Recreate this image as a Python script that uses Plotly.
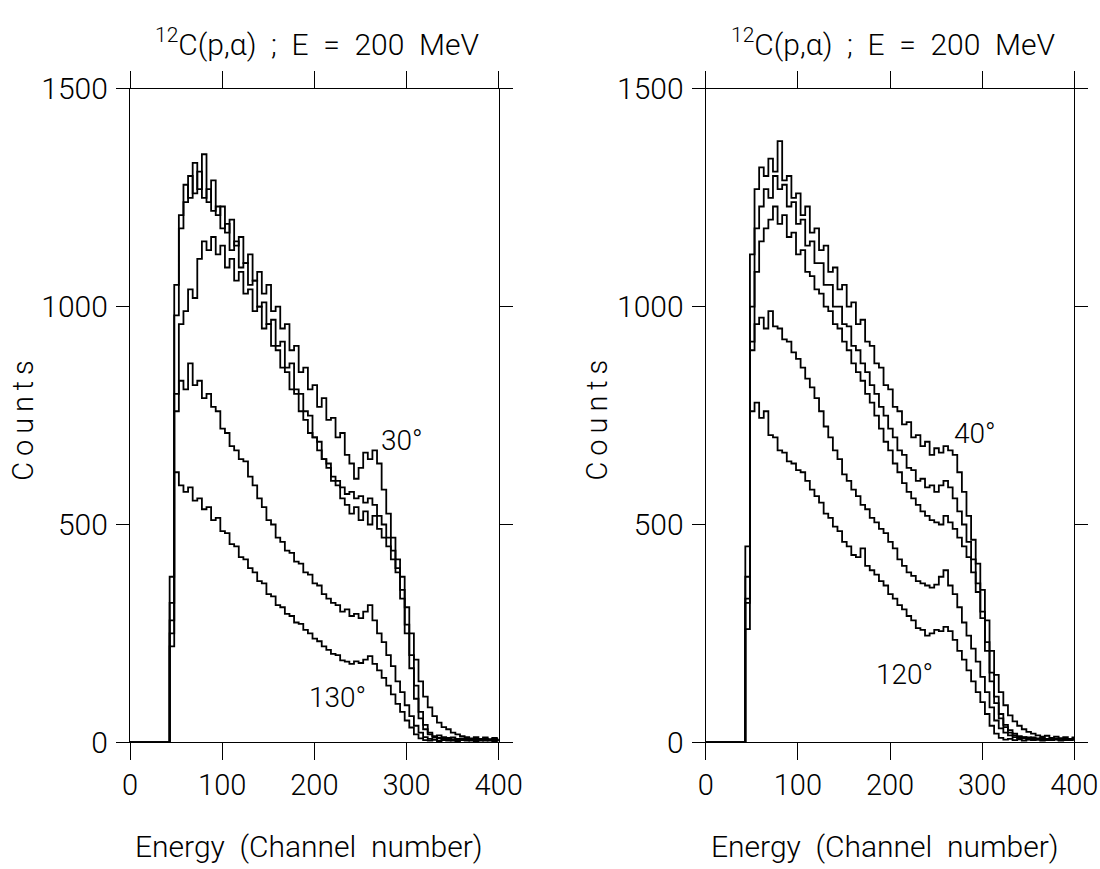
import plotly.graph_objects as go

# channel bins (start of each bin); first bin (0-42) is empty
CH = [0] + list(range(43, 400, 5))

# ---- left panel: 12C(p,alpha), angles 30 deg ... 130 deg
L_30 = [0, 380, 1050, 1210, 1280, 1250, 1330, 1270, 1350, 1240, 1290, 1210, 1230,
        1170, 1200, 1140, 1160, 1100, 1120, 1060, 1080, 1030, 1050, 990, 1000,
        950, 960, 900, 910, 850, 860, 810, 820, 770, 790, 740, 745,
        700, 710, 660, 640, 605, 630, 665, 650, 670, 640, 580, 525,
        470, 420, 380, 310, 250, 190, 140, 105, 80, 60, 45, 35,
        30, 22, 18, 14, 12, 9, 12, 8, 11, 7, 10, 6]
L_b = [0, 320, 980, 1180, 1240, 1300, 1260, 1310, 1250, 1270, 1220, 1230, 1180,
       1190, 1130, 1150, 1090, 1100, 1050, 1060, 1000, 1010, 960, 970, 910,
       920, 860, 870, 810, 800, 760, 750, 700, 690, 650, 640, 600,
       590, 560, 545, 525, 540, 510, 530, 500, 520, 490, 470, 450,
       420, 390, 350, 270, 200, 130, 70, 40, 22, 14, 10, 8,
       10, 6, 8, 5, 7, 5, 8, 4, 6, 5, 7, 4]
L_c = [0, 250, 760, 960, 990, 1040, 1020, 1110, 1150, 1130, 1160, 1120, 1140,
       1090, 1110, 1060, 1080, 1030, 1040, 990, 1000, 950, 960, 910, 900,
       860, 850, 810, 800, 760, 740, 710, 700, 670, 650, 630, 610,
       600, 585, 570, 575, 560, 565, 550, 560, 545, 520, 500, 470,
       440, 400, 330, 250, 170, 100, 55, 30, 18, 12, 16, 12,
       9, 11, 7, 9, 6, 8, 5, 7, 9, 5, 8, 6]
L_d = [0, 280, 800, 830, 810, 870, 820, 830, 790, 800, 770, 760, 720,
       710, 680, 670, 650, 645, 610, 590, 560, 540, 510, 500, 470,
       460, 440, 435, 415, 410, 390, 385, 365, 360, 340, 330, 320,
       315, 300, 305, 290, 295, 285, 300, 315, 280, 250, 230, 200,
       175, 140, 115, 85, 60, 38, 22, 12, 8, 6, 9, 5,
       7, 4, 6, 5, 8, 4, 6, 5, 7, 4, 6, 5]
L_130 = [0, 220, 620, 590, 575, 585, 555, 560, 535, 540, 510, 515, 485,
         480, 455, 450, 425, 420, 400, 390, 370, 365, 340, 335, 315,
         310, 295, 290, 275, 272, 258, 250, 238, 232, 220, 212, 203,
         200, 188, 185, 180, 186, 182, 190, 198, 180, 165, 148, 130,
         110, 88, 70, 50, 34, 18, 9, 5, 4, 6, 3, 5,
         4, 6, 3, 5, 4, 6, 3, 5, 4, 6, 3, 5]

# ---- right panel: angles 40 deg ... 120 deg
R_40 = [0, 450, 1120, 1270, 1320, 1300, 1340, 1310, 1380, 1290, 1300, 1250, 1260,
        1210, 1230, 1170, 1180, 1130, 1140, 1080, 1090, 1040, 1050, 1000, 1010,
        960, 970, 920, 910, 870, 860, 820, 810, 770, 760, 730, 735,
        700, 705, 680, 690, 660, 675, 665, 680, 670, 660, 620, 575,
        520, 465, 410, 350, 280, 210, 155, 115, 85, 62, 48, 38,
        30, 24, 20, 16, 13, 15, 10, 13, 9, 12, 8, 11]
R_b = [0, 380, 1000, 1180, 1230, 1270, 1250, 1300, 1270, 1280, 1230, 1240, 1190,
       1200, 1140, 1150, 1100, 1100, 1050, 1050, 1000, 1000, 960, 955, 910,
       900, 870, 850, 820, 800, 770, 750, 720, 700, 670, 660, 630,
       625, 600, 605, 585, 590, 575, 590, 600, 585, 560, 530, 500,
       460, 420, 365, 300, 230, 160, 105, 65, 40, 28, 20, 14,
       12, 9, 11, 7, 10, 6, 9, 7, 5, 8, 6, 9]
R_c = [0, 330, 900, 1080, 1150, 1180, 1200, 1230, 1190, 1210, 1160, 1170, 1120,
       1130, 1080, 1070, 1040, 1030, 1000, 990, 960, 950, 920, 900, 870,
       850, 830, 800, 780, 750, 720, 690, 670, 640, 620, 595, 575,
       560, 545, 530, 520, 510, 505, 500, 520, 505, 490, 470, 450,
       425, 390, 345, 285, 210, 140, 90, 55, 35, 22, 16, 12,
       9, 11, 7, 9, 6, 8, 5, 7, 9, 5, 7, 6]
R_d = [0, 320, 920, 960, 975, 950, 990, 955, 950, 925, 920, 895, 880,
       860, 835, 815, 790, 760, 725, 700, 670, 650, 615, 600, 580,
       565, 545, 535, 515, 505, 490, 480, 460, 445, 420, 405, 390,
       382, 370, 365, 360, 355, 362, 380, 395, 360, 340, 310, 275,
       245, 215, 185, 150, 115, 80, 50, 32, 22, 16, 12, 9,
       11, 7, 9, 6, 8, 5, 7, 9, 5, 7, 6, 8]
R_120 = [0, 260, 760, 780, 745, 760, 705, 700, 670, 665, 645, 640, 625,
         620, 600, 580, 565, 550, 525, 515, 495, 485, 460, 450, 430,
         425, 445, 405, 395, 385, 370, 360, 340, 330, 315, 305, 290,
         280, 262, 258, 245, 250, 258, 255, 265, 255, 235, 210, 190,
         165, 140, 115, 92, 65, 38, 20, 10, 6, 8, 5, 7,
         4, 6, 5, 7, 4, 6, 5, 7, 4, 6, 5, 7]

X_TICKS = [0, 100, 200, 300, 400]
Y_TICKS = [0, 500, 1000, 1500]
TITLE = "<sup>12</sup>C(p,\u03b1)\u00a0 ;\u00a0 E\u00a0 =\u00a0 200\u00a0 MeV"
XTITLE = "Energy\u00a0 (Channel\u00a0 number)"
YTITLE = "C\u2009o\u2009u\u2009n\u2009t\u2009s"

LEFT_LABELS = [("30\u00b0", 295, 692), ("130\u00b0", 225, 104)]
RIGHT_LABELS = [("40\u00b0", 292, 708), ("120\u00b0", 216, 155)]

FONT = "Roboto, Liberation Sans, sans-serif"
WEIGHT = 300
W, H = 1100, 869

fig = go.Figure()

def add_curve(vals, xa, ya):
    fig.add_trace(go.Scatter(
        x=CH + [400], y=vals + [vals[-1]], mode="lines", line_shape="hv",
        line=dict(color="black", width=1.8), xaxis=xa, yaxis=ya,
        showlegend=False, hoverinfo="skip"))

for v in [L_130, L_d, L_c, L_b, L_30]:
    add_curve(v, "x", "y")
for v in [R_120, R_d, R_c, R_b, R_40]:
    add_curve(v, "x2", "y2")

# pixel geometry
LX0, LX1 = 130.0, 498.7
RX0, RX1 = 705.7, 1074.3
Y0, Y1 = 742.3, 88.9
ydom = [(H - Y0) / H, (H - Y1) / H]

def fnt(size):
    return dict(family=FONT, size=size, color="black", weight=WEIGHT)

def xax(d0, d1, anchor):
    return dict(domain=[d0 / W, d1 / W], range=[0, 400], anchor=anchor, automargin=False,
                tickvals=X_TICKS, ticks="outside", ticklen=17, tickwidth=1.3,
                tickcolor="black", showline=True, linecolor="black", linewidth=1.3,
                mirror="allticks", showgrid=False, zeroline=False,
                tickfont=fnt(29), ticklabelstandoff=0)

def yax(anchor):
    return dict(domain=ydom, range=[0, 1500], anchor=anchor, automargin=False,
                tickvals=Y_TICKS, ticks="outside", ticklen=13, tickwidth=1.3,
                tickcolor="black", showline=True, linecolor="black", linewidth=1.3,
                mirror="allticks", showgrid=False, zeroline=False,
                tickfont=fnt(30), ticklabelstandoff=2)

anns = []
for (cx, ann_x_title) in [((LX0 + LX1) / 2, 22.8), ((RX0 + RX1) / 2, 597.4)]:
    anns.append(dict(text=TITLE, x=(cx + 3) / W, y=(H - 42) / H, xref="paper", yref="paper",
                     xanchor="center", yanchor="middle", showarrow=False, font=fnt(30)))
    anns.append(dict(text=XTITLE, x=(cx - 5) / W, y=(H - 846) / H, xref="paper", yref="paper",
                     xanchor="center", yanchor="middle", showarrow=False, font=fnt(30)))
    anns.append(dict(text=YTITLE, x=ann_x_title / W, y=(H - 420) / H, xref="paper", yref="paper",
                     xanchor="center", yanchor="middle", showarrow=False, textangle=-90,
                     font=fnt(29)))

for (t, x, y) in LEFT_LABELS:
    anns.append(dict(text=t, x=x, y=y, xref="x", yref="y", showarrow=False,
                     xanchor="center", yanchor="middle", font=fnt(28)))
for (t, x, y) in RIGHT_LABELS:
    anns.append(dict(text=t, x=x, y=y, xref="x2", yref="y2", showarrow=False,
                     xanchor="center", yanchor="middle", font=fnt(28)))

fig.update_layout(
    width=W, height=H, margin=dict(l=0, r=0, t=0, b=0, autoexpand=False),
    paper_bgcolor="white", plot_bgcolor="white",
    xaxis=xax(LX0, LX1, "y"), yaxis=yax("x"),
    xaxis2=xax(RX0, RX1, "y2"), yaxis2=yax("x2"),
    annotations=anns, showlegend=False,
)

fig.write_html("out.html")
